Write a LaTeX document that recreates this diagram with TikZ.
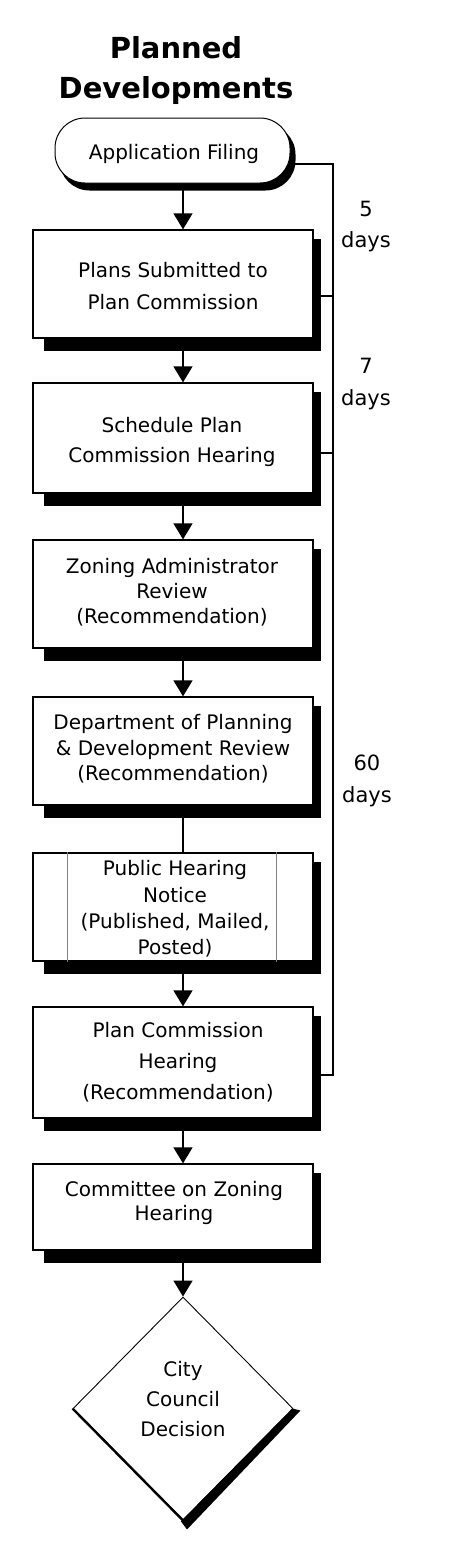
\documentclass[tikz,border=0pt]{standalone}
\usepackage{fontspec}
\setmainfont{DejaVu Sans}
\usetikzlibrary{arrows.meta,calc,shapes.geometric}
\pgfdeclarelayer{background}
\pgfdeclarelayer{canvas}
\pgfsetlayers{canvas,background,main}
\begin{document}
\begin{tikzpicture}[x=1pt,y=-1pt,
  boxnode/.style={draw=black, line width=1.3pt, fill=white, minimum width=280pt, inner sep=0pt},
  txt/.style={align=center, inner sep=0pt, font=\fontsize{20}{#1}\selectfont},
  daystxt/.style={align=center, inner sep=0pt, font=\fontsize{21}{#1}\selectfont},
  arr/.style={line width=1.4pt, -{Triangle[width=19pt,length=16pt]}},
  plain/.style={line width=1.4pt},
  rail/.style={line width=1.8pt},
  shad/.style={fill=black}
]
\begin{pgfonlayer}{canvas}
\fill[white] (0,0) rectangle (452,1566);
\end{pgfonlayer}
\useasboundingbox (0,0) rectangle (452,1566);

% title
\node[align=center, inner sep=0pt, font=\fontsize{29}{40}\selectfont\bfseries] (title) at (176,70) {Planned\\Developments};

% terminal
\node[draw=black, line width=1pt, fill=white, rounded corners=30pt, minimum width=235pt, minimum height=65pt, inner sep=0pt] (term) at (172.5,150.5) {};
\node[txt=24] (termt) at (174,154) {Application Filing};

% boxes
\node[boxnode, minimum height=108pt] (b1) at (173,284) {};
\node[boxnode, minimum height=110pt] (b2) at (173,438) {};
\node[boxnode, minimum height=108pt] (b3) at (173,594) {};
\node[boxnode, minimum height=108pt] (b4) at (173,751) {};
\node[boxnode, minimum height=108pt] (b5) at (173,907) {};
\node[boxnode, minimum height=111pt] (b6) at (173,1062.5) {};
\node[boxnode, minimum height=86pt] (b7) at (173,1207) {};

% decision
\node[diamond, draw=black, line width=0.9pt, fill=white, minimum width=220pt, minimum height=223pt, inner sep=0pt] (dec) at (183,1408.5) {};
\draw[line width=2.4pt] (dec.west) -- (dec.south);
\fill ($(dec.east)+(-1,0)$) -- ($(dec.east)+(7,2)$) -- ($(dec.south)+(4,9)$) -- ($(dec.south)+(-2,1)$) -- cycle;

% shadows
\begin{pgfonlayer}{background}
  \fill[shad, rounded corners=30pt] ($(term.south west)+(5,7)$) rectangle ($(term.north east)+(5,7)$);
  \foreach \b in {b1,b2,b3,b4,b5,b6,b7}{
    \fill[shad] ($(\b.south west)+(12,12)$) rectangle ($(\b.north east)+(7,10)$);
  }
\end{pgfonlayer}

% predefined process inner lines
\draw[gray, line width=1pt] ($(b5.north west)+(35,0)$) -- ($(b5.south west)+(35,0)$);
\draw[gray, line width=1pt] ($(b5.north east)+(-37,0)$) -- ($(b5.south east)+(-37,0)$);

% texts
\node[txt=32] (b1t) at (173,286) {Plans Submitted to\\Plan Commission};
\node[txt=30] (b2t) at (172,442) {Schedule Plan\\Commission Hearing};
\node[txt=25] (b3t) at (172,592) {Zoning Administrator\\Review\\(Recommendation)};
\node[txt=25.5] (b4t) at (173,749) {Department of Planning\\\& Development Review\\(Recommendation)};
\node[txt=26.3] (b5t) at (175,909) {Public Hearing\\Notice\\(Published, Mailed,\\Posted)};
\node[txt=31] (b6t) at (178,1062) {Plan Commission\\Hearing\\(Recommendation)};
\node[txt=24] (b7t) at (174,1203) {Committee on Zoning\\Hearing};
\node[txt=30] (dect) at (183,1399) {City\\Council\\Decision};

% arrows
\coordinate (ax) at (183,0);
\draw[arr] (term.south -| ax) -- (b1.north -| ax);
\draw[arr] (b1.south -| ax) -- (b2.north -| ax);
\draw[arr] (b2.south -| ax) -- (b3.north -| ax);
\draw[arr] (b3.south -| ax) -- (b4.north -| ax);
\draw[plain] (b4.south -| ax) -- (b5.north -| ax);
\draw[arr] (b5.south -| ax) -- (b6.north -| ax);
\draw[arr] (b6.south -| ax) -- (b7.north -| ax);
\draw[arr] (b7.south -| ax) -- (dec.north);

% timing rail
\coordinate (r0) at (333,164);
\coordinate (t1) at (333,296);
\coordinate (t2) at (333,453);
\coordinate (r6) at (333,1075);
\draw[rail] (term.east |- r0) -- (r0) -- (r6) -- (b6.east |- r6);
\draw[rail] (b1.east |- t1) -- (t1);
\draw[rail] (b2.east |- t2) -- (t2);

% day labels
\node[daystxt=31] (d5) at (366,226.4) {5\\days};
\node[daystxt=32] (d7) at (366,384) {7\\days};
\node[daystxt=32] (d60) at (367,781) {60\\days};
\end{tikzpicture}
\end{document}
